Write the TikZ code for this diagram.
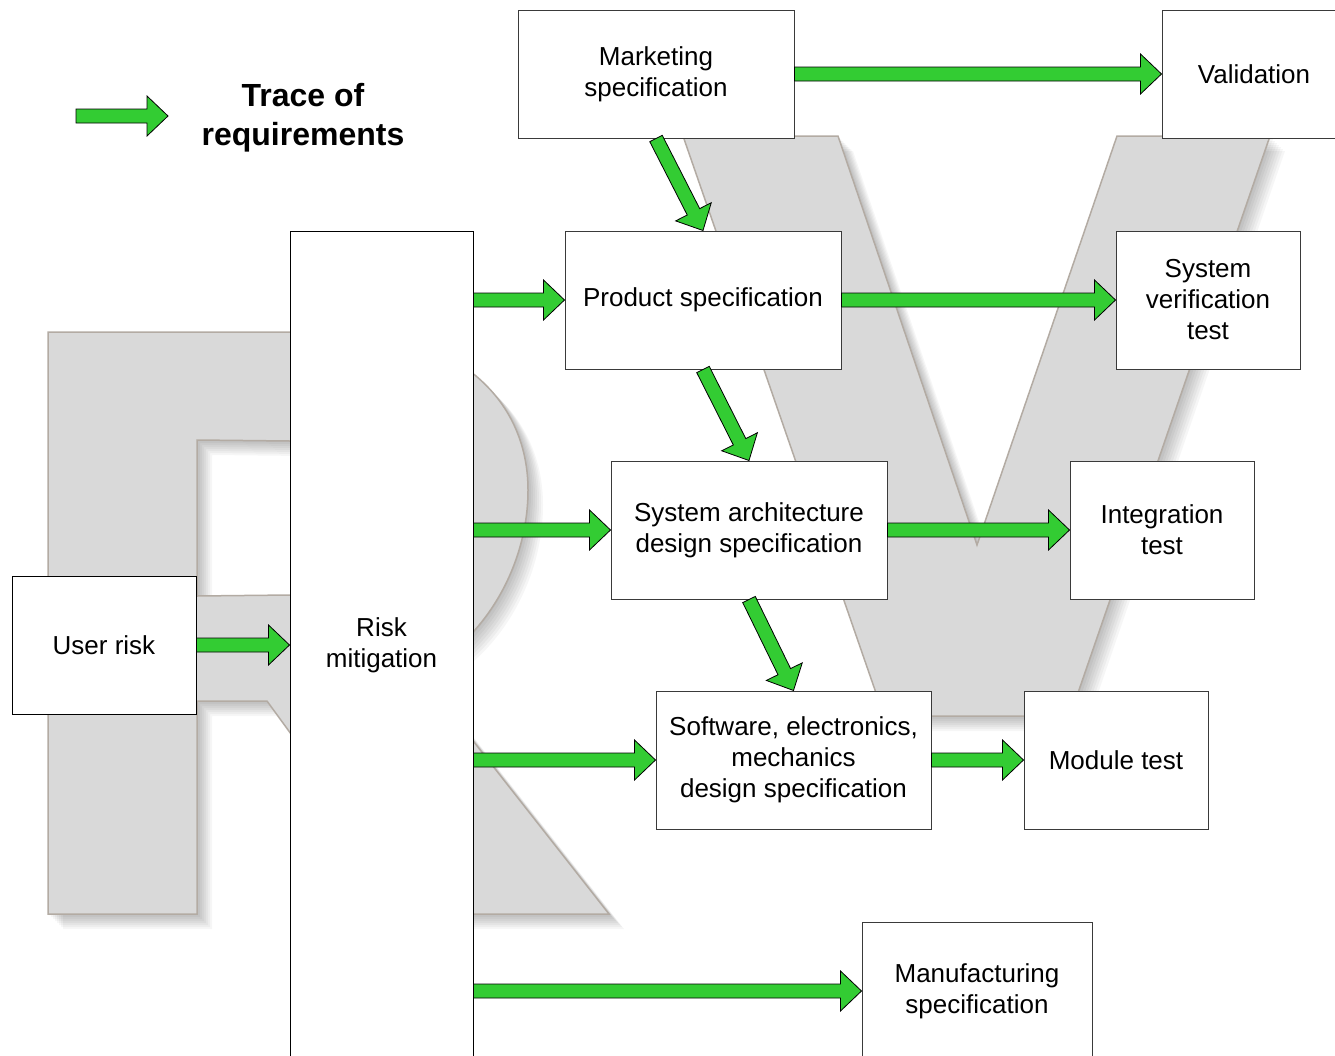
\documentclass[tikz,border=0pt]{standalone}
\usepackage{fontspec}
\setmainfont{Liberation Sans}
\usetikzlibrary{calc}

\definecolor{tracegreen}{HTML}{33CC33}
\definecolor{letterfill}{HTML}{D9D9D9}
\definecolor{letterline}{HTML}{B3ABA3}
\definecolor{boxline}{HTML}{3A3A3A}

% block arrow from #1 to #2
\newcommand{\tracearrow}[2]{%
  \coordinate (ta) at (#1);
  \coordinate (tb) at (#2);
  \coordinate (th) at ($(tb)!21pt!(ta)$);
  \draw[trace arrow] ($(ta)!7pt!90:(tb)$) -- ($(th)!7pt!90:(tb)$) -- ($(th)!20pt!90:(tb)$) -- (tb)
    -- ($(th)!20pt!-90:(tb)$) -- ($(th)!7pt!-90:(tb)$) -- ($(ta)!7pt!-90:(tb)$) -- cycle;
}

\begin{document}
\begin{tikzpicture}[x=1pt, y=-1pt,
  % Define styles for boxes, arrows and the big letters
  spec box/.style={draw=boxline, fill=white, line width=1pt, inner sep=0pt, align=center,
    font=\fontsize{26}{31}\selectfont},
  wide box/.style={spec box, minimum width=276pt, minimum height=138pt},
  test box/.style={spec box, minimum width=184pt, minimum height=138pt},
  trace arrow/.style={draw=black, fill=tracegreen, line width=0.8pt},
  letter shape/.style={fill=letterfill, draw=letterline, line width=1.5pt, even odd rule},
  letter shadow/.style={fill=black, opacity=0.035, even odd rule},
  letterR/.style={insert path={(48,332) -- (340,332) .. controls (450,332) and (528,395) .. (528,490)
    .. controls (528,570) and (480,645) .. (419,672) -- (609,914) -- (422,914) -- (267,701)
    -- (197,701) -- (197,914) -- (48,914) -- cycle
    (197,440) -- (290,441) .. controls (355,444) and (378,478) .. (378,518)
    .. controls (378,560) and (350,592) .. (290,595) -- (197,596) -- cycle}},
  letterV/.style={insert path={(683,136) -- (838,136) -- (977,545) -- (1117,136) -- (1270,136)
    -- (1070,716) -- (884,716) -- cycle}}
  ]

  \clip (0,0) rectangle (1335,1055);
  \fill[white] (0,0) rectangle (1335,1055);

  % --- Letters R and V in the back ---
  \foreach \d in {1,3,...,15}
    \fill[letter shadow, shift={(\d,\d)}] [letterR] [letterV];
  \path[letter shape] [letterR] [letterV];

  % --- Legend ---
  \coordinate (legA) at (76,116);
  \coordinate (legB) at (168,116);
  \node[font=\fontsize{32}{39}\selectfont\bfseries, align=center] (title) at (303,118) {Trace of\\requirements};

  % --- Boxes ---
  \node[wide box, minimum height=128pt] (mkt) at (656,74) {Marketing\\specification};
  \node[test box, minimum height=128pt] (valid) at (1254,74) {Validation};
  \node[wide box] (prod) at (703,300) {Product specification};
  \node[test box] (sysver) at (1208,300) {System\\verification\\test};
  \node[wide box] (arch) at (749,530) {System architecture\\design specification};
  \node[test box] (integ) at (1162,530) {Integration\\test};
  \node[wide box, minimum width=275pt] (soft) at (793.5,760) {Software, electronics,\\mechanics\\design specification};
  \node[test box] (module) at (1116,760) {Module test};
  \node[spec box, minimum width=230pt, minimum height=138pt] (manuf) at (977,991) {Manufacturing\\specification};
  \node[spec box, draw=black, minimum width=183pt, minimum height=828pt] (risk) at (381.5,645) {Risk\\mitigation};
  \node[test box, draw=black] (user) at (104,645) {User risk};

  % --- Trace arrows ---
  \tracearrow{legA}{legB}
  \tracearrow{mkt.east}{valid.west}
  \tracearrow{mkt.south}{prod.north}
  \tracearrow{prod.south}{arch.north}
  \tracearrow{arch.south}{soft.north}
  \tracearrow{prod.east}{sysver.west}
  \tracearrow{arch.east}{integ.west}
  \tracearrow{soft.east}{module.west}
  \tracearrow{user.east}{risk.west}
  \foreach \t in {prod,arch,soft,manuf}{
    \tracearrow{risk.east |- \t.west}{\t.west}
  }
\end{tikzpicture}
\end{document}
